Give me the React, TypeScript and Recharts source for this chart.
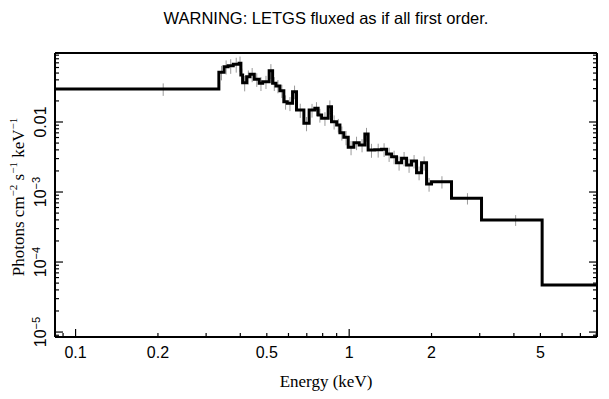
import { ComposedChart, Line, Scatter, ErrorBar, XAxis, YAxis } from 'recharts';

// bin edges in keV (one more than the flux values)
const energyEdges = [
  0.0841, 0.334, 0.349, 0.361, 0.377, 0.396, 0.402, 0.408, 0.422, 0.434, 0.45,
  0.469, 0.483, 0.51, 0.525, 0.54, 0.558, 0.577, 0.594, 0.621, 0.642,
  0.683, 0.714, 0.749, 0.77, 0.793, 0.838, 0.862, 0.9, 0.925, 0.956,
  0.992, 1.04, 1.088, 1.141, 1.173, 1.24, 1.313, 1.37, 1.429, 1.49,
  1.554, 1.621, 1.69, 1.763, 1.839, 1.918, 2.0, 2.366, 3.046, 5.073, 8.05,
];

// photons cm^-2 s^-1 keV^-1
const flux = [
  0.0296, 0.0513, 0.0617, 0.0637, 0.0667, 0.069, 0.0469, 0.0364, 0.0444, 0.048,
  0.0407, 0.0357, 0.0376, 0.0541, 0.0357, 0.0327, 0.028, 0.0195, 0.0185, 0.0271,
  0.01484, 0.00958, 0.01484, 0.01569, 0.01259, 0.01129, 0.01654, 0.0101, 0.00906, 0.00703,
  0.00605, 0.00435, 0.00506, 0.00469, 0.00674, 0.00398, 0.004, 0.00407, 0.00349, 0.00319,
  0.00262, 0.00303, 0.00243, 0.00277, 0.00189, 0.00262, 0.0013, 0.0014, 0.000813, 0.000398,
  0.0000469,
];

const fluxErr = [
  0.006, 0.012, 0.014, 0.015, 0.016, 0.017, 0.011, 0.009, 0.01, 0.011,
  0.009, 0.008, 0.008, 0.013, 0.008, 0.007, 0.006, 0.0045, 0.0042, 0.006,
  0.0034, 0.0022, 0.0033, 0.0035, 0.0028, 0.0025, 0.0038, 0.0023, 0.002, 0.0016,
  0.0014, 0.001, 0.0011, 0.001, 0.0015, 0.0009, 0.0009, 0.0009, 0.0008, 0.0007,
  0.0006, 0.0007, 0.00055, 0.0006, 0.00042, 0.0006, 0.00029, 0.00028, 0.00015, 0.00007,
  0,
];

const xLabels = [0.1, 0.2, 0.5, 1, 2, 5];
const xTicks = [0.09, 0.1, 0.2, 0.3, 0.4, 0.5, 0.6, 0.7, 0.8, 0.9, 1, 2, 3, 4, 5, 6, 7, 8];
const yDecades = [1e-6, 1e-5, 1e-4, 1e-3, 1e-2];
const yMinor = [1, 2, 3, 4, 5, 6, 7, 8, 9];

const xDomain = [0.0841, 8.05];
const yDomain = [8.5e-6, 0.0967];

const yTicks = yDecades
  .flatMap((d) => yMinor.map((m) => d * m))
  .filter((v) => v >= yDomain[0] && v <= yDomain[1]);

// step line: each bin starts at its lower edge, last point closes the final bin
const stepData = flux.map((f, i) => ({ e: energyEdges[i], flux: f }));
stepData.push({ e: energyEdges[energyEdges.length - 1], flux: flux[flux.length - 1] });

const errData = flux.map((f, i) => ({
  e: (energyEdges[i] + energyEdges[i + 1]) / 2,
  flux: f,
  err: fluxErr[i],
}));

const SANS = '"Liberation Sans", Arial, sans-serif';
const SERIF = '"Liberation Serif", "Times New Roman", serif';

const isDecade = (v: number) => Math.abs(Math.log10(v) - Math.round(Math.log10(v))) < 1e-6;
const hasLabel = (v: number) => xLabels.some((l) => Math.abs(l - v) < 1e-9);

const BottomTick = ({ x, y, payload }: any) => {
  const v = payload.value;
  const len = isDecade(v) ? 8 : 4;
  return (
    <g>
      <line x1={x} y1={y} x2={x} y2={y - len} stroke="#000" strokeWidth={1.2} />
      {hasLabel(v) && (
        <text x={x} y={y + 21} textAnchor="middle" fontFamily={SANS} fontSize={16} fill="#000">
          {String(v)}
        </text>
      )}
    </g>
  );
};

const TopTick = ({ x, y, payload }: any) => {
  const len = isDecade(payload.value) ? 8 : 4;
  return <line x1={x} y1={y} x2={x} y2={y + len} stroke="#000" strokeWidth={1.2} />;
};

const LeftTick = ({ x, y, payload }: any) => {
  const v = payload.value;
  const major = isDecade(v);
  const len = major ? 8 : 4;
  const exp = Math.round(Math.log10(v));
  const lx = x - 9;
  return (
    <g>
      <line x1={x} y1={y} x2={x + len} y2={y} stroke="#000" strokeWidth={1.2} />
      {major && (
        <text
          x={lx}
          y={y}
          transform={`rotate(-90, ${lx}, ${y})`}
          textAnchor="middle"
          fontFamily={SANS}
          fontSize={16}
          fill="#000"
        >
          {exp === -2 ? (
            '0.01'
          ) : (
            <>
              10
              <tspan dy={-6} fontSize={11}>{`\u2212${-exp}`}</tspan>
            </>
          )}
        </text>
      )}
    </g>
  );
};

const RightTick = ({ x, y, payload }: any) => {
  const len = isDecade(payload.value) ? 8 : 4;
  return <line x1={x} y1={y} x2={x - len} y2={y} stroke="#000" strokeWidth={1.2} />;
};

const App = () => {
  return (
    <div style={{ position: 'absolute', left: 0, top: 0, width: 609, height: 399, background: '#fff' }}>
      <ComposedChart width={609} height={399} margin={{ top: 0, right: 0, bottom: 0, left: 0 }}>
        <XAxis
          dataKey="e"
          type="number"
          scale="log"
          domain={xDomain}
          allowDataOverflow
          ticks={xTicks}
          interval={0}
          tick={<BottomTick />}
          tickSize={0}
          tickMargin={0}
          tickLine={false}
          height={62}
          axisLine={{ stroke: '#000', strokeWidth: 2 }}
        />
        <XAxis
          xAxisId="top"
          orientation="top"
          type="number"
          scale="log"
          domain={xDomain}
          allowDataOverflow
          ticks={xTicks}
          interval={0}
          tick={<TopTick />}
          tickSize={0}
          tickMargin={0}
          tickLine={false}
          height={53}
          axisLine={{ stroke: '#000', strokeWidth: 2 }}
        />
        <YAxis
          dataKey="flux"
          type="number"
          scale="log"
          domain={yDomain}
          allowDataOverflow
          ticks={yTicks}
          interval={0}
          tick={<LeftTick />}
          tickSize={0}
          tickMargin={0}
          tickLine={false}
          width={55}
          axisLine={{ stroke: '#000', strokeWidth: 2 }}
        />
        <YAxis
          yAxisId="right"
          orientation="right"
          type="number"
          scale="log"
          domain={yDomain}
          allowDataOverflow
          ticks={yTicks}
          interval={0}
          tick={<RightTick />}
          tickSize={0}
          tickMargin={0}
          tickLine={false}
          width={12}
          axisLine={{ stroke: '#000', strokeWidth: 2 }}
        />
        <Scatter data={errData} shape={() => <g />} isAnimationActive={false}>
          <ErrorBar dataKey="err" direction="y" width={0} stroke="#9a9a9a" strokeWidth={1} isAnimationActive={false} />
        </Scatter>
        <Line
          data={stepData}
          dataKey="flux"
          type="stepAfter"
          stroke="#000"
          strokeWidth={3}
          dot={false}
          activeDot={false}
          isAnimationActive={false}
        />
      </ComposedChart>
      <svg width={609} height={399} style={{ position: 'absolute', left: 0, top: 0, pointerEvents: 'none' }}>
        <text x={326} y={24} textAnchor="middle" fontFamily={SANS} fontSize={16.5} fill="#000">
          WARNING: LETGS fluxed as if all first order.
        </text>
        <text x={326} y={387} textAnchor="middle" fontFamily={SERIF} fontSize={17} fill="#000">
          Energy (keV)
        </text>
        <text
          x={24}
          y={197}
          transform="rotate(-90, 24, 197)"
          textAnchor="middle"
          fontFamily={SERIF}
          fontSize={17}
          fill="#000"
        >
          Photons cm<tspan dy={-7} fontSize={11}>{'\u22122'}</tspan>
          <tspan dy={7}> s</tspan>
          <tspan dy={-7} fontSize={11}>{'\u22121'}</tspan>
          <tspan dy={7}> keV</tspan>
          <tspan dy={-7} fontSize={11}>{'\u22121'}</tspan>
        </text>
      </svg>
    </div>
  );
};

export default App;
